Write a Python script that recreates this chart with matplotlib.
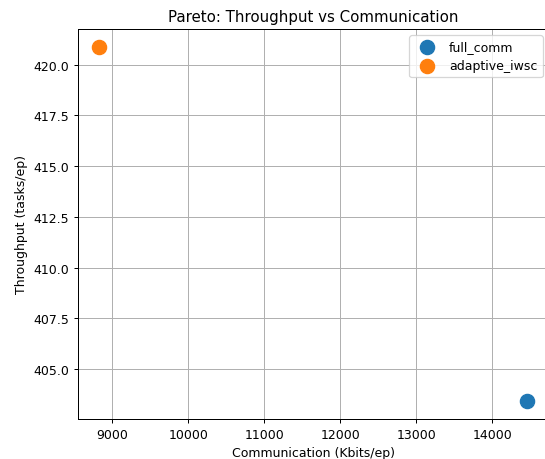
import matplotlib
matplotlib.use("Agg")
import matplotlib.pyplot as plt

# Puntos de la frontera de Pareto por método
metodos = ["full_comm", "adaptive_iwsc"]
comunicacion = [14460, 8830]      # Kbits/ep
throughput = [403.42, 420.88]     # tasks/ep

dpi = 90
fig = plt.figure(figsize=(545 / dpi, 460 / dpi), dpi=dpi)
ax = fig.add_axes([0.143, 0.087, 0.864, 0.848])

for m, c, t in zip(metodos, comunicacion, throughput):
    ax.scatter(c, t, s=130, label=m)

ax.set_xlabel("Communication (Kbits/ep)")
ax.set_ylabel("Throughput (tasks/ep)")
ax.set_title("Pareto: Throughput vs Communication")
ax.grid(True)
ax.legend(loc="upper right")

fig.savefig("out.png", dpi=dpi)
